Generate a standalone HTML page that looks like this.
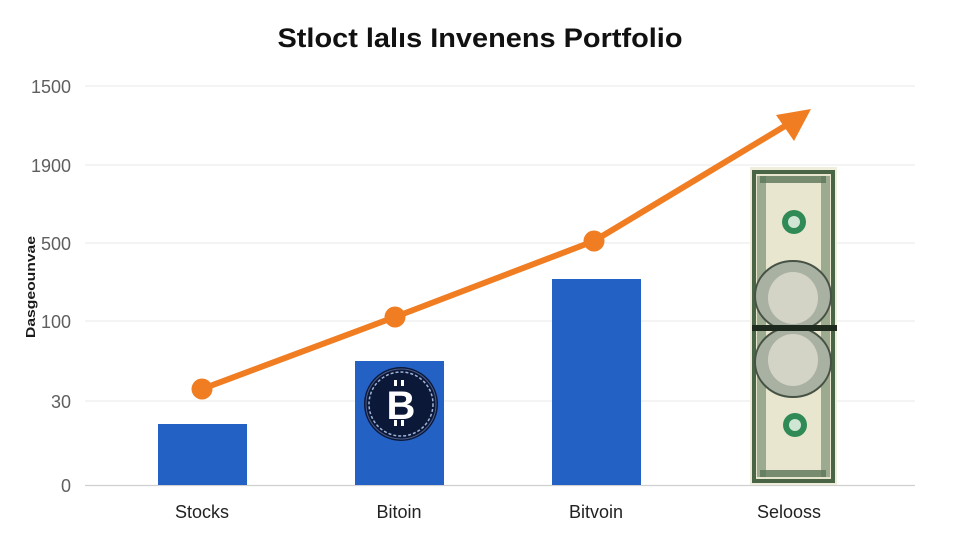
<!DOCTYPE html>
<html>
<head>
<meta charset="utf-8">
<style>
  html, body { margin: 0; padding: 0; background: #ffffff; }
  svg { display: block; }
</style>
</head>
<body>
<svg width="960" height="540" viewBox="0 0 960 540" xmlns="http://www.w3.org/2000/svg" font-family="Liberation Sans, Arial, sans-serif">
  <rect width="960" height="540" fill="#ffffff"/>

  <!-- Title -->
  <text x="480" y="47" text-anchor="middle" font-size="27" font-weight="bold" fill="#111" textLength="405" lengthAdjust="spacingAndGlyphs">Stloct lalıs Invenens Portfolio</text>

  <!-- Gridlines -->
  <g stroke="#ededed" stroke-width="1.2">
    <line x1="85" y1="86" x2="915" y2="86"/>
    <line x1="85" y1="165" x2="915" y2="165"/>
    <line x1="85" y1="243" x2="915" y2="243"/>
    <line x1="85" y1="321" x2="915" y2="321"/>
    <line x1="85" y1="401" x2="915" y2="401"/>
  </g>
  <line x1="85" y1="485.5" x2="915" y2="485.5" stroke="#d0d0d0" stroke-width="1.3"/>

  <!-- Y tick labels -->
  <g font-size="18" fill="#5f5f5f" text-anchor="end">
    <text x="71" y="93">1500</text>
    <text x="71" y="172">1900</text>
    <text x="71" y="250">500</text>
    <text x="71" y="328">100</text>
    <text x="71" y="408">30</text>
    <text x="71" y="492">0</text>
  </g>

  <!-- Y axis label -->
  <text transform="translate(35,287) rotate(-90)" text-anchor="middle" font-size="13" font-weight="bold" fill="#1a1a1a" textLength="102" lengthAdjust="spacingAndGlyphs">Dasgeounvae</text>

  <!-- Bars -->
  <g fill="#2361c5">
    <rect x="158" y="424" width="89" height="61"/>
    <rect x="355" y="361" width="89" height="124"/>
    <rect x="552" y="279" width="89" height="206"/>
  </g>

  <!-- Bitcoin logo -->
  <circle cx="401" cy="404" r="37" fill="#0c1838"/>
  <circle cx="401" cy="404" r="32" fill="none" stroke="#9fb4d8" stroke-width="1.5" stroke-dasharray="3 2"/>
  <circle cx="401" cy="404" r="35" fill="none" stroke="#4a5c88" stroke-width="1"/>
  <text x="401" y="419" text-anchor="middle" font-size="40" font-weight="bold" fill="#ffffff">B</text>
  <rect x="394" y="380" width="3" height="6" fill="#ffffff"/>
  <rect x="401" y="380" width="3" height="6" fill="#ffffff"/>
  <rect x="394" y="420" width="3" height="6" fill="#ffffff"/>
  <rect x="401" y="420" width="3" height="6" fill="#ffffff"/>

  <!-- Dollar bill -->
  <g>
    <rect x="750" y="167" width="87" height="318" fill="#efeddc"/>
    <rect x="754" y="172" width="79" height="309" fill="#e9e6cf" stroke="#4a6446" stroke-width="4"/>
    <rect x="757" y="176" width="9" height="301" fill="#7b9175" opacity="0.7"/>
    <rect x="821" y="176" width="9" height="301" fill="#7b9175" opacity="0.7"/>
    <rect x="760" y="176" width="66" height="7" fill="#5a7456" opacity="0.8"/>
    <rect x="760" y="470" width="66" height="7" fill="#5a7456" opacity="0.8"/>
    <!-- seals -->
    <circle cx="794" cy="222" r="12" fill="#2f8a55"/>
    <circle cx="794" cy="222" r="6" fill="#cfe6d4"/>
    <circle cx="795" cy="425" r="12" fill="#2f8a55"/>
    <circle cx="795" cy="425" r="6" fill="#cfe6d4"/>
    <!-- portraits -->
    <ellipse cx="793" cy="296" rx="38" ry="35" fill="#a9b1a3" stroke="#465244" stroke-width="2"/>
    <ellipse cx="793" cy="298" rx="25" ry="26" fill="#d3d4c6"/>
    <ellipse cx="793" cy="362" rx="38" ry="35" fill="#a9b1a3" stroke="#465244" stroke-width="2"/>
    <ellipse cx="793" cy="360" rx="25" ry="26" fill="#d3d4c6"/>
    <rect x="752" y="325" width="85" height="6" fill="#1f2a1e"/>
  </g>

  <!-- Orange line with arrow -->
  <polyline points="202,389 395,317 594,241 785,126" fill="none" stroke="#f07d22" stroke-width="6" stroke-linecap="round" stroke-linejoin="round"/>
  <polygon points="811,109 776,115 794,141" fill="#f07d22"/>
  <circle cx="202" cy="389" r="10.5" fill="#f07d22"/>
  <circle cx="395" cy="317" r="10.5" fill="#f07d22"/>
  <circle cx="594" cy="241" r="10.5" fill="#f07d22"/>

  <!-- X labels -->
  <g font-size="18" fill="#222" text-anchor="middle">
    <text x="202" y="518">Stocks</text>
    <text x="399" y="518">Bitoin</text>
    <text x="596" y="518">Bitvoin</text>
    <text x="789" y="518">Selooss</text>
  </g>
</svg>
</body>
</html>
